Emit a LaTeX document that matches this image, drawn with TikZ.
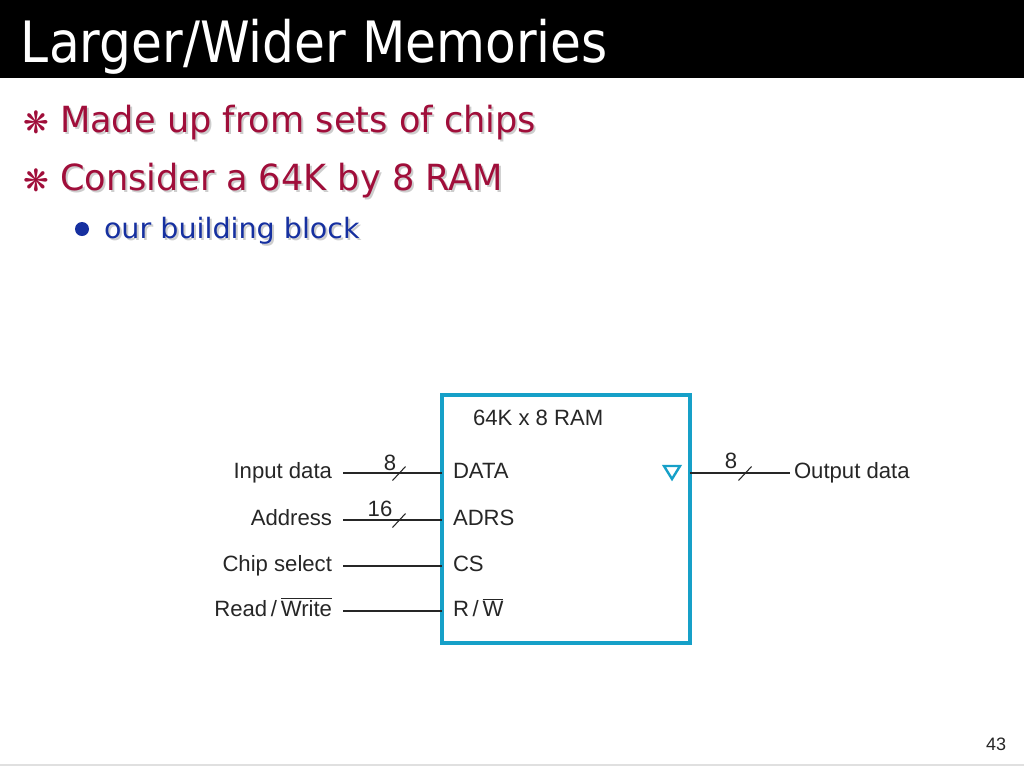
\documentclass[tikz,border=0pt]{standalone}
\usepackage{fontspec}
\setmainfont{Liberation Sans}
\newfontfamily\titlefont{DejaVu Sans}
\definecolor{crim}{RGB}{160,14,58}
\definecolor{navyb}{RGB}{22,48,160}
\definecolor{ramcyan}{RGB}{22,160,200}
\definecolor{shadowgray}{RGB}{205,205,205}
\begin{document}
\begin{tikzpicture}[x=0.75pt,y=-0.75pt,
  every node/.style={inner sep=0pt,outer sep=0pt},
  bigtext/.style={anchor=base west,font=\titlefont\fontsize{27}{30}\selectfont},
  subtext/.style={anchor=base west,font=\titlefont\fontsize{21}{24}\selectfont},
  startxt/.style={font=\titlefont\fontsize{23}{26}\selectfont,text=crim},
  lbl/.style={font=\fontsize{16.6}{20}\selectfont,text=black!85},
  wire/.style={line width=1.1pt,black!85},
  slashmark/.style={line width=0.8pt,black!85}]
\useasboundingbox (0,0) rectangle (1024,768);
% header band
\fill[black] (0,0) rectangle (1024,78);
\node[anchor=base west,text=white,font=\titlefont\fontsize{42.75}{48}\selectfont] (title) at (21,62) {\scalebox{0.882}[1]{Larger/Wider Memories}};
% bullets
\node[startxt] (star1) at (36,122) {❋};
\node[bigtext,text=shadowgray] (b1s) at (62,134) {\scalebox{0.977}[1]{Made up from sets of chips}};
\node[bigtext,text=crim] (b1) at (60,132) {\scalebox{0.977}[1]{Made up from sets of chips}};
\node[startxt] (star2) at (36,180) {❋};
\node[bigtext,text=shadowgray] (b2s) at (62,192) {\scalebox{0.977}[1]{Consider a 64K by 8 RAM}};
\node[bigtext,text=crim] (b2) at (60,190) {\scalebox{0.977}[1]{Consider a 64K by 8 RAM}};
\fill[navyb] (82,229) circle (7);
\node[subtext,text=shadowgray] (b3s) at (106,240) {\scalebox{1.02}[1]{our building block}};
\node[subtext,text=navyb] (b3) at (104,238) {\scalebox{1.02}[1]{our building block}};
% RAM block
\node[draw=ramcyan,line width=2.4pt,minimum width=186pt,minimum height=186pt,anchor=north west] (ram) at (442,395) {};
\node[lbl,anchor=base west] (title2) at (473,425) {64K x 8 RAM};
\node[lbl,anchor=base west] (pdata) at (453,478) {DATA};
\node[lbl,anchor=base west] (padrs) at (453,525) {ADRS};
\node[lbl,anchor=base west] (pcs) at (453,571) {CS};
\node[lbl,anchor=base west] (prw) at (453,616) {R\,/\,$\overline{\mbox{W}}$};
\draw[ramcyan,line width=1.8pt,line join=miter] (664,466) -- (680,466) -- (672,479) -- cycle;
% left labels
\node[lbl,anchor=base east] (lin) at (332,478) {Input data};
\node[lbl,anchor=base east] (ladr) at (332,525) {Address};
\node[lbl,anchor=base east] (lcs) at (332,571) {Chip select};
\node[lbl,anchor=base east] (lrw) at (332,616) {Read\,/\,$\overline{\mbox{Write}}$};
% wire end coordinates
\coordinate (win) at (343,473);
\coordinate (wadr) at (343,520);
\coordinate (wcs) at (343,566);
\coordinate (wrw) at (343,611);
\coordinate (wout) at (790,473);
\draw[wire] (win) -- (win -| ram.west);
\draw[wire] (wadr) -- (wadr -| ram.west);
\draw[wire] (wcs) -- (wcs -| ram.west);
\draw[wire] (wrw) -- (wrw -| ram.west);
\draw[wire] (wout -| ram.east) -- (wout);
% bus slashes and widths
\draw[slashmark] (392.5,480.5) -- (405.5,466.5);
\node[lbl,anchor=base] (n8a) at (390,470) {8};
\draw[slashmark] (392.5,527.5) -- (405.5,513.5);
\node[lbl,anchor=base] (n16) at (380,516) {16};
\draw[slashmark] (738.5,480.5) -- (751.5,466.5);
\node[lbl,anchor=base] (n8b) at (731,468) {8};
\node[lbl,anchor=base west] (lout) at (794,478) {Output data};
% footer
\draw[black!12,line width=0.8pt] (0,765) -- (1024,765);
\node[anchor=base,font=\fontsize{13.5}{15}\selectfont,text=black!85] (pg) at (996,750) {43};
\end{tikzpicture}
\end{document}
